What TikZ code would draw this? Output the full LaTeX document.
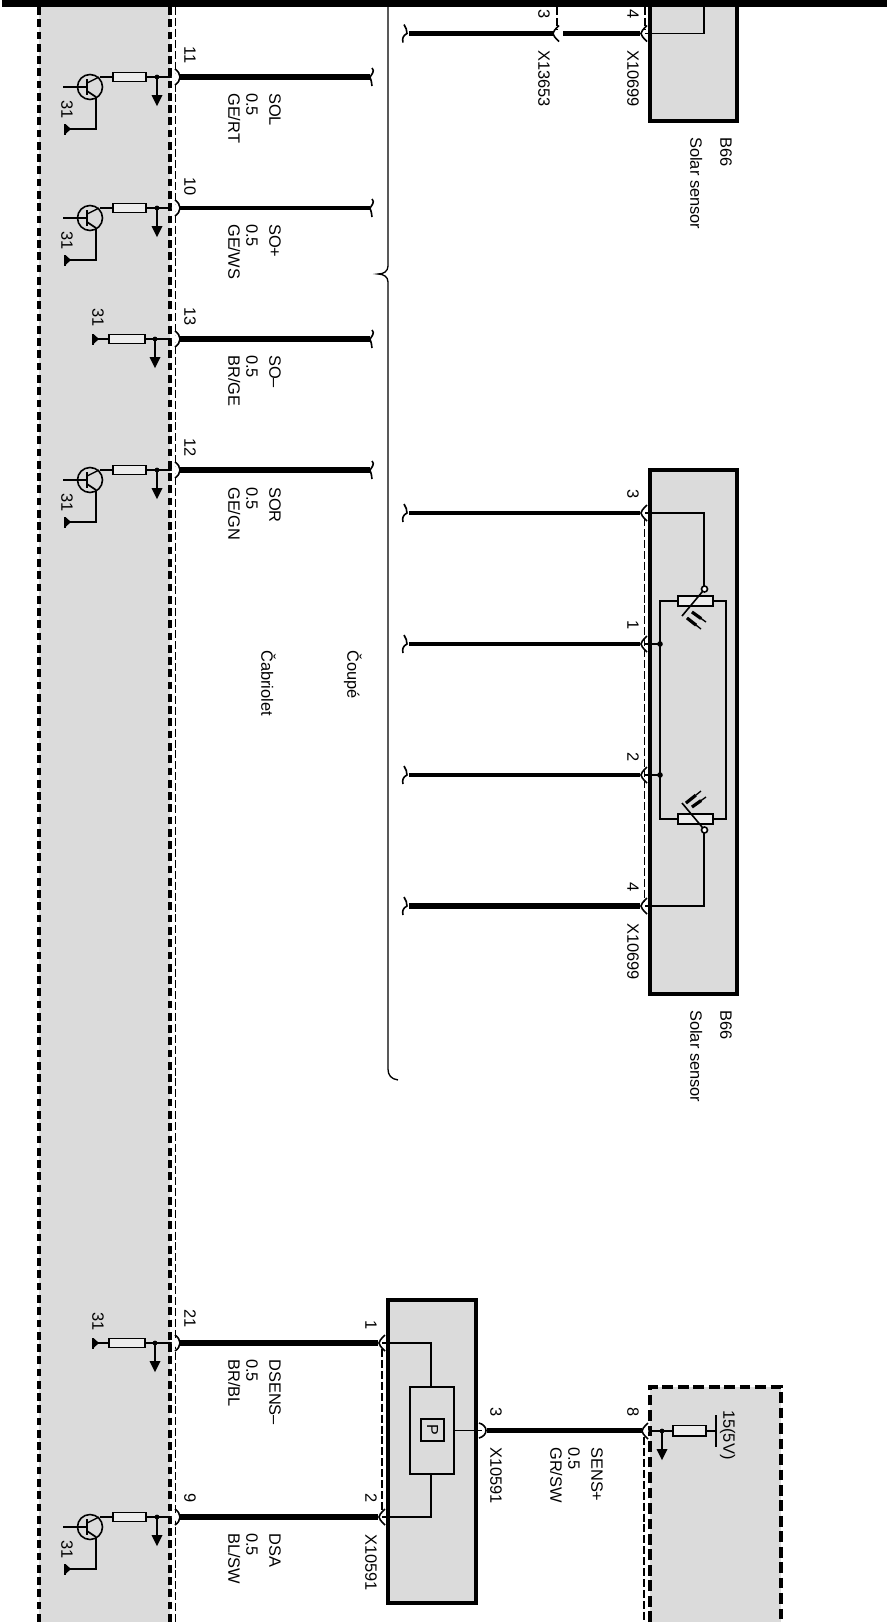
\documentclass[tikz,border=0pt]{standalone}
\usepackage{fontspec}
\usetikzlibrary{calc}
\setmainfont{Liberation Sans}
\tikzset{
  lbl/.style={rotate=-90,anchor=west,inner sep=0pt,text height=6.8pt,text depth=0pt,font=\fontsize{12.3}{14}\selectfont,text=black},
  wire/.style={line width=3.8pt},
  thin line/.style={line width=1pt},
  paneldash/.style={line width=2.4pt,dash pattern=on 5.8pt off 3.4pt},
  boxdash/.style={line width=2.6pt,dash pattern=on 8pt off 3.6pt},
  conndash/.style={line width=0.9pt,dash pattern=on 6pt off 2.2pt},
  boxline/.style={draw=black,line width=3pt,fill=black!14},
  res/.style={draw=black,line width=1.3pt,fill=black!7},
  fork/.style={line width=1.2pt},
}
\newcommand{\forkR}[2]{\draw[fork] (#1+3,#2-8) .. controls (#1-1,#2-4) and (#1-3,#2-2) .. (#1-3,#2) .. controls (#1-3,#2+2) and (#1-1,#2+4) .. (#1+3,#2+8);}
\newcommand{\forkS}[2]{\draw[fork] (#1-2,#2-9) .. controls (#1,#2-6) and (#1+1,#2-3) .. (#1+1,#2) .. controls (#1-3,#2+2) and (#1-4,#2+5) .. (#1-3,#2+9);}
\newcommand{\forkE}[2]{\draw[fork] (#1,#2-9) .. controls (#1+3,#2-6) and (#1,#2-3) .. (#1-2,#2) .. controls (#1,#2+3) and (#1-1,#2+6) .. (#1,#2+9);}
\newcommand{\pinL}[2]{\fill[white] (#1-0.5,#2) circle (3.8);\draw[fork] (#1-1,#2-8) .. controls (#1+2,#2-6) and (#1+4,#2-3) .. (#1+4,#2) .. controls (#1+4,#2+3) and (#1+2,#2+6) .. (#1-1,#2+8);}
\newcommand{\branch}[2]{\fill (#1,#2) circle (2.4);\draw[line width=1.3pt] (#1,#2) -- (#1,#2+20);\fill (#1-5.5,#2+18) -- (#1+5.5,#2+18) -- (#1,#2+29) -- cycle;}
\newcommand{\trans}[1]{
  \draw[thin line] (172,#1) -- (100,#1);
  \draw[res] (113,#1-4.5) rectangle (146,#1+4.5);
  \draw[line width=1.2pt] (90,#1+10) circle (12.5);
  \draw[thin line] (63,#1+10) -- (87,#1+10);
  \draw[line width=1.6pt] (87,#1+2) -- (87,#1+18);
  \draw[thin line] (87,#1+6) -- (99,#1);
  \draw[line width=1.3pt] (87,#1+14) -- (96,#1+20);
  \draw[line width=1.5pt] (96,#1+20) -- (96,#1+52) -- (66,#1+52);
  \fill (64,#1+46.5) rectangle (66,#1+57.5);
  \fill (66,#1+47.5) -- (66,#1+56.5) -- (71,#1+52) -- cycle;
  \branch{157}{#1}
  \node[lbl] at (66,#1+23) {31};
}
\newcommand{\resgnd}[2]{
  \draw[thin line] (172,#1) -- (97,#1);
  \draw[res] (109,#1-4.5) rectangle (145,#1+4.5);
  \fill (92,#1-5.5) rectangle (94,#1+5.5);
  \fill (94,#1-4.5) -- (94,#1+4.5) -- (99,#1) -- cycle;
  \branch{155}{#1}
  \node[lbl] at (97,#2) {31};
}
\newcommand{\sig}[4]{%
  \node[lbl] at (274,#1) {#2};
  \node[lbl] at (251,#1) {#3};
  \node[lbl] at (233,#1) {#4};
}
\begin{document}
\begin{tikzpicture}[x=0.75pt,y=-0.75pt]
\useasboundingbox (0,0) rectangle (887,1622);
\fill[white] (0,0) rectangle (887,1622);

% left grey control unit
\fill[black!14] (39,7) rectangle (170,1622);
\draw[paneldash] (39,7) -- (39,1622);
\draw[paneldash] (170,7) -- (170,1622);
\draw[conndash] (175.5,7) -- (175.5,1622);

% brace
\draw[line width=1pt] (388,7) -- (388,266) .. controls (388,271) and (384,274) .. (378,274)
   .. controls (384,274) and (388,277) .. (388,282) -- (388,1069) .. controls (388,1075) and (391,1079) .. (398,1080);

% upper solar sensor box
\draw[boxline] (650,-6) rectangle (737,121);
\draw[thin line] (645,33.5) -- (704,33.5) -- (704,7);
\draw[conndash] (557,7) -- (557,29);
\draw[conndash] (645,7) -- (645,29);
\draw[wire] (409,33.5) -- (553,33.5);
\draw[wire] (563,33.5) -- (640,33.5);
\forkS{406}{33.5}
\forkR{556}{33.5}
\forkR{644}{33.5}
\node[lbl] at (543,9) {3};
\node[lbl] at (632,9) {4};
\node[lbl] at (543,50) {X13653};
\node[lbl] at (632,50) {X10699};
\node[lbl] at (725,137) {B66};
\node[lbl] at (695,137) {Solar sensor};

% top bar
\fill[black] (2,0) rectangle (887,7);

% left signal lines
\foreach \y/\w in {77/4.2pt,208/3.6pt,339/4.6pt,470/3.8pt}{
  \draw[line width=\w] (179,\y) -- (370,\y);
  \forkE{372}{\y}
}
\trans{77}
\trans{208}
\resgnd{339}{308}
\trans{470}
\foreach \y in {77,208,339,470}{\pinL{176}{\y}}
\node[lbl] at (189,46) {11};
\node[lbl] at (189,177) {10};
\node[lbl] at (189,307) {13};
\node[lbl] at (189,438) {12};
\sig{93}{SOL}{0.5}{GE/RT}
\sig{224}{SO+}{0.5}{GE/WS}
\sig{355}{SO--}{0.5}{BR/GE}
\sig{487}{SOR}{0.5}{GE/GN}

\node[lbl] at (352,650) {Čoupé};
\node[lbl] at (266,650) {Čabriolet};

% middle solar sensor
\draw[boxline] (650,470) rectangle (737,994);
\foreach \y/\w in {513/3.6pt,644/3.6pt,775/3.6pt,906/4.6pt}{
  \draw[line width=\w] (409,\y) -- (640,\y);
  \forkS{406}{\y}
  \forkR{644}{\y}
}
\draw[conndash] (644.5,518) -- (644.5,901);
\draw[thin line] (645,513) -- (704,513) -- (704,586);
\draw[thin line] (645,906) -- (704,906) -- (704,833);
\draw[thin line] (645,644) -- (660,644);
\draw[thin line] (645,775) -- (660,775);
\draw[line width=1.3pt] (678,601) -- (660,601) -- (660,819) -- (678,819);
\draw[line width=1.3pt] (713,601) -- (726,601) -- (726,819) -- (713,819);
\fill (660,644) circle (2.8);
\fill (660,775) circle (2.8);
\draw[res] (678,596) rectangle (713,606);
\draw[res] (678,814) rectangle (713,824);
\draw[line width=1.2pt,fill=white] (704.5,589) circle (3);
\draw[line width=1.2pt,fill=white] (704.5,830) circle (3);
\draw[line width=1.2pt] (702.5,591.5) -- (682,616);
\draw[line width=1.2pt] (702.5,827.5) -- (682,803);
\foreach \a/\b/\c/\d in {692/612/706/622,687/618/701/629,692/807/706/797,686/803/701/791}{
  \draw[line width=2.4pt] (\a,\b) -- ($(\a,\b)!0.65!(\c,\d)$);
  \draw[line width=1pt] (\a,\b) -- (\c,\d);
}
\node[lbl] at (632,489) {3};
\node[lbl] at (632,620) {1};
\node[lbl] at (632,752) {2};
\node[lbl] at (632,882) {4};
\node[lbl] at (632,923) {X10699};
\node[lbl] at (725,1010) {B66};
\node[lbl] at (695,1010) {Solar sensor};

% bottom left lines
\foreach \y/\w in {1343/3.8pt,1517/3.8pt}{
  \draw[line width=\w] (179,\y) -- (378,\y);
  \forkR{382}{\y}
}
\resgnd{1343}{1312}
\trans{1517}
\foreach \y in {1343,1517}{\pinL{176}{\y}}
\node[lbl] at (189,1309) {21};
\node[lbl] at (189,1493) {9};
\sig{1359}{DSENS--}{0.5}{BR/BL}
\sig{1533}{DSA}{0.5}{BL/SW}

% X10591 box
\draw[boxline] (388,1300) rectangle (476,1603);
\draw[thin line] (382,1343) -- (431,1343) -- (431,1387);
\draw[thin line] (382,1517) -- (431,1517) -- (431,1474);
\draw[conndash] (382,1349) -- (382,1511);
\draw[line width=1.1pt] (410,1387) rectangle (454,1474);
\draw[line width=1.1pt] (421,1419) rectangle (444,1441);
\node[rotate=-90,inner sep=0pt,font=\fontsize{12}{14}\selectfont] at (432.5,1430) {P};
\draw[thin line] (454,1430.5) -- (482,1430.5);
\draw[wire] (487,1430.5) -- (642,1430.5);
\draw[fork] (479,1423) .. controls (483,1424) and (486,1427) .. (486,1430.5) .. controls (486,1434) and (483,1437) .. (479,1438);
\node[lbl] at (370,1320) {1};
\node[lbl] at (370,1493) {2};
\node[lbl] at (370,1534) {X10591};
\node[lbl] at (495,1407) {3};
\node[lbl] at (495,1447) {X10591};

% lower right grey box
\fill[black!14] (650,1387) rectangle (781,1622);
\draw[boxdash] (650,1622) -- (650,1387) -- (781,1387) -- (781,1622);
\draw[conndash] (644,1437) -- (644,1622);
\draw[thin line] (647,1431) -- (716,1431);
\draw[res] (673,1425.5) rectangle (706,1436);
\draw[line width=1pt] (716,1415) -- (716,1447);
\branch{662}{1431}
\fill[white] (645,1431) circle (3.5);
\forkR{645}{1431}
\node[lbl] at (728,1410) {15(5V)};
\node[lbl] at (596,1447) {SENS+};
\node[lbl] at (573,1447) {0.5};
\node[lbl] at (555,1447) {GR/SW};
\node[lbl] at (632,1407) {8};
\end{tikzpicture}
\end{document}
